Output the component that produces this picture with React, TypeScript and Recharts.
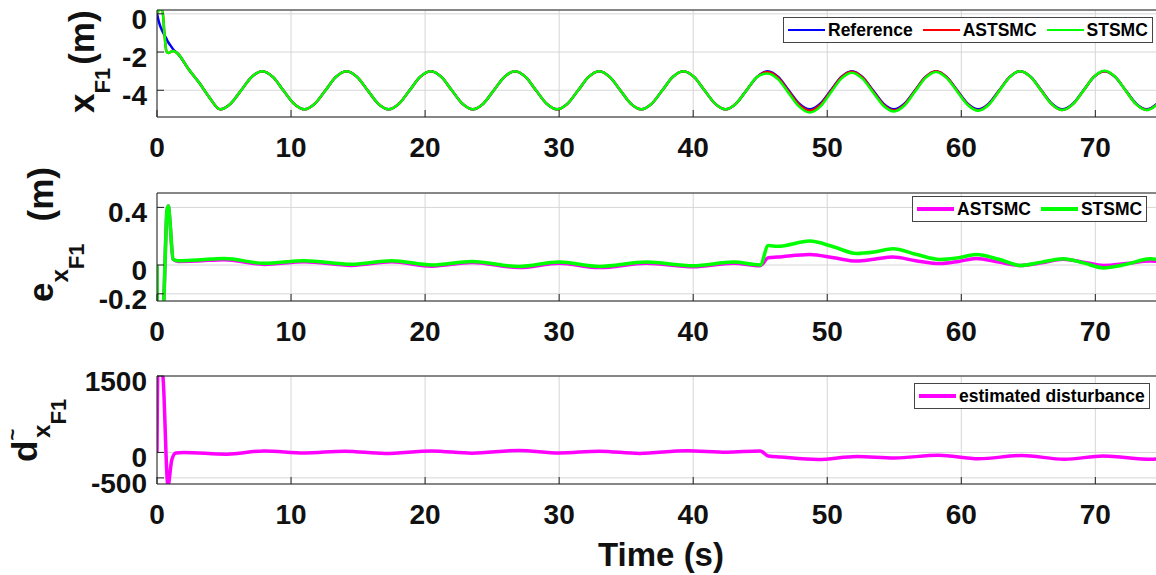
import React from "react";
import { CartesianGrid, Legend, Line, LineChart, XAxis, YAxis } from "recharts";

const FONT = '"Liberation Sans", Arial, Helvetica, sans-serif';
const INK = "#222222";
const GRID = "#d6d6d6";

const BLUE = "#0000ff";
const RED = "#ff0000";
const GREEN = "#00ff00";
const MAGENTA = "#ff00ff";

const xTicks = [0, 10, 20, 30, 40, 50, 60, 70];
const xDomain = [0, 74.6];

// ---- position x_F1 (m) ----
const tPos = [
  0, 0.15, 0.4, 0.55, 0.7, 0.85, 1.0, 1.2,
  1.57, 2.36, 3.14, 3.93, 4.71, 5.5, 6.28,
  7.07, 7.85, 8.64, 9.42, 10.21, 11.0, 11.78, 12.57,
  13.35, 14.14, 14.92, 15.71, 16.49, 17.28, 18.06, 18.85,
  19.63, 20.42, 21.21, 21.99, 22.78, 23.56, 24.35, 25.13,
  25.92, 26.7, 27.49, 28.27, 29.06, 29.85, 30.63, 31.42,
  32.2, 32.99, 33.77, 34.56, 35.34, 36.13, 36.91, 37.7,
  38.48, 39.27, 40.06, 40.84, 41.63, 42.41, 43.2, 43.98,
  44.77, 45.55, 46.34, 47.12, 47.91, 48.69, 49.48, 50.27,
  51.05, 51.84, 52.62, 53.41, 54.19, 54.98, 55.76, 56.55,
  57.33, 58.12, 58.9, 59.69, 60.48, 61.26, 62.05, 62.83,
  63.62, 64.4, 65.19, 65.97, 66.76, 67.54, 68.33, 69.12,
  69.9, 70.69, 71.47, 72.26, 73.04, 73.83, 74.61,
];
const refPos = [
  0, -0.45, -0.9, -1.1, -1.3, -1.5, -1.65, -1.85,
  -2.1, -2.9, -3.6, -4.4, -5, -4.7, -4,
  -3.3, -3, -3.3, -4, -4.7, -5, -4.7, -4,
  -3.3, -3, -3.3, -4, -4.7, -5, -4.7, -4,
  -3.3, -3, -3.3, -4, -4.7, -5, -4.7, -4,
  -3.3, -3, -3.3, -4, -4.7, -5, -4.7, -4,
  -3.3, -3, -3.3, -4, -4.7, -5, -4.7, -4,
  -3.3, -3, -3.3, -4, -4.7, -5, -4.7, -4,
  -3.3, -3, -3.3, -4, -4.7, -5, -4.7, -4,
  -3.3, -3, -3.3, -4, -4.7, -5, -4.7, -4,
  -3.3, -3, -3.3, -4, -4.7, -5, -4.7, -4,
  -3.3, -3, -3.3, -4, -4.7, -5, -4.7, -4,
  -3.3, -3, -3.3, -4, -4.7, -5, -4.7,
];
const astPos = [
  0, 0.2, 0.22, -1.0, -1.95, -2.05, -2.0, -1.95,
  -2.1, -2.9, -3.6, -4.4, -5, -4.7, -4,
  -3.3, -3, -3.3, -4, -4.7, -5, -4.7, -4,
  -3.3, -3, -3.3, -4, -4.7, -5, -4.7, -4,
  -3.3, -3, -3.3, -4, -4.7, -5, -4.7, -4,
  -3.3, -3, -3.3, -4, -4.7, -5, -4.7, -4,
  -3.3, -3, -3.3, -4, -4.7, -5, -4.7, -4,
  -3.3, -3, -3.3, -4, -4.7, -5, -4.7, -4,
  -3.3, -3.05, -3.36, -4.07, -4.77, -5.07, -4.77, -4.05,
  -3.33, -3.03, -3.33, -4.05, -4.75, -5.06, -4.75, -4.03,
  -3.32, -3.01, -3.32, -4.03, -4.74, -5.05, -4.74, -4.02,
  -3.3, -3.0, -3.31, -4.02, -4.74, -5.04, -4.73, -4.01,
  -3.29, -3.0, -3.29, -4.01, -4.73, -5.03, -4.74,
];
const stPos = [
  0, 0.2, 0.22, -1.0, -1.95, -2.05, -2.0, -1.95,
  -2.1, -2.9, -3.6, -4.4, -5, -4.7, -4,
  -3.3, -3, -3.3, -4, -4.7, -5, -4.7, -4,
  -3.3, -3, -3.3, -4, -4.7, -5, -4.7, -4,
  -3.3, -3, -3.3, -4, -4.7, -5, -4.7, -4,
  -3.3, -3, -3.3, -4, -4.7, -5, -4.7, -4,
  -3.3, -3, -3.3, -4, -4.7, -5, -4.7, -4,
  -3.3, -3, -3.3, -4, -4.7, -5, -4.7, -4,
  -3.3, -3.12, -3.43, -4.15, -4.86, -5.17, -4.86, -4.12,
  -3.39, -3.08, -3.39, -4.1, -4.81, -5.11, -4.8, -4.07,
  -3.35, -3.04, -3.35, -4.06, -4.77, -5.07, -4.76, -4.04,
  -3.31, -3.0, -3.31, -4.03, -4.74, -5.04, -4.73, -4.01,
  -3.29, -2.98, -3.29, -4.01, -4.73, -5.04, -4.74,
];

// ---- tracking error e_xF1 (m) ----
const tErr = [
  0, 0.02, 0.45, 0.75, 0.85, 0.95, 1.2, 1.6,
  3, 5, 8, 11, 14.5, 17.5, 20.5, 23.5, 27, 30, 33, 36.5, 40, 43,
  45, 45.6, 46.3, 48.7, 50.5, 52.2, 53.5, 54.9, 56.6, 58.4, 59.8,
  61.1, 62.8, 64.4, 66, 67.6, 69.1, 70.6, 72.3, 74.1, 74.6,
];
const errAst = [
  0, -0.3, -0.3, 0.38, 0.41, 0.32, 0.04, 0.025,
  0.028, 0.037, 0.004, 0.022, -0.003, 0.022, -0.008, 0.017, -0.018, 0.012, -0.018, 0.012, -0.013, 0.012,
  -0.005, 0.05, 0.055, 0.073, 0.05, 0.027, 0.04, 0.055, 0.03, 0.01, 0.025,
  0.045, 0.02, -0.003, 0.015, 0.04, 0.02, -0.003, 0.01, 0.027, 0.025,
];
const errSt = [
  0, -0.3, -0.3, 0.38, 0.41, 0.32, 0.04, 0.03,
  0.035, 0.045, 0.012, 0.03, 0.005, 0.03, 0.0, 0.025, -0.01, 0.02, -0.01, 0.02, -0.005, 0.02,
  0.0, 0.135, 0.13, 0.166, 0.125, 0.08, 0.09, 0.113, 0.075, 0.038, 0.05,
  0.073, 0.04, -0.003, 0.02, 0.043, 0.015, -0.02, 0.005, 0.043, 0.04,
];

// ---- estimated disturbance ----
const tDist = [
  0, 0.06, 0.4, 0.82, 1.1, 1.4, 2,
  5.2, 8, 11, 14, 17, 20.5, 23.5, 27, 30, 33, 36, 39.5, 42.5,
  45, 45.6, 46.5, 49.3, 52.2, 55, 58.3, 61.3, 64.5, 67.7, 70.6, 74.2, 74.6,
];
const distEst = [
  0, 1560, 1560, -650, -150, -10, 0,
  -35, 30, -10, 25, -20, 30, -15, 40, -10, 25, -20, 35, 5,
  30, -70, -90, -140, -80, -110, -55, -125, -60, -135, -70, -135, -130,
];

const posData = tPos.map((t, i) => ({ t, ref: refPos[i], ast: astPos[i], st: stPos[i] }));
const errData = tErr.map((t, i) => ({ t, ast: errAst[i], st: errSt[i] }));
const distData = tDist.map((t, i) => ({ t, d: distEst[i] }));

const XTick = ({ x, y, payload }: any) => (
  <text x={x} y={y + 20} textAnchor="middle" fontFamily={FONT} fontWeight={700} fontSize={28} fill="#111">
    {payload.value}
  </text>
);

const YTick = ({ x, y, payload }: any) => (
  <text x={x} y={y + 15} textAnchor="end" fontFamily={FONT} fontWeight={700} fontSize={28} fill="#111">
    {payload.value}
  </text>
);

// legend keeps the series in drawing order (recharts sorts by name otherwise)
const legendBox = (order: string[], lineWidth: number) => ({ payload }: any) => {
  const items = [...(payload || [])].sort((a: any, b: any) => order.indexOf(a.value) - order.indexOf(b.value));
  return (
    <div
      style={{
        display: "flex",
        alignItems: "center",
        height: 24,
        padding: "0 4px",
        border: "1px solid #444",
        background: "#fff",
        fontFamily: FONT,
        fontWeight: 700,
        fontSize: 17.5,
        color: "#000",
        whiteSpace: "nowrap",
      }}
    >
      {items.map((p: any, i: number) => (
        <div key={p.value} style={{ display: "flex", alignItems: "center", marginLeft: i ? 10 : 0 }}>
          <span style={{ display: "inline-block", width: 37, height: lineWidth, background: p.color, marginRight: 3 }} />
          <span>{p.value}</span>
        </div>
      ))}
    </div>
  );
};

type PanelProps = {
  top: number;
  height: number;
  data: any[];
  domain: number[];
  yTicks: number[];
  legendLeft: number;
  legendTop: number;
  legendLine: number;
  order: string[];
  children: React.ReactNode;
};

const Panel = ({ top, height, data, domain, yTicks, legendLeft, legendTop, legendLine, order, children }: PanelProps) => (
  <div style={{ position: "absolute", left: 0, top }}>
    <LineChart width={1160} height={height} data={data} margin={{ top: 9, right: 2, bottom: 12, left: 0 }}>
      <CartesianGrid stroke={GRID} />
      <XAxis
        dataKey="t"
        type="number"
        domain={xDomain}
        ticks={xTicks}
        interval={0}
        allowDataOverflow
        height={43}
        tickSize={-7}
        tickMargin={27}
        tick={XTick}
        stroke={INK}
      />
      <XAxis
        xAxisId="top"
        orientation="top"
        dataKey="t"
        type="number"
        domain={xDomain}
        ticks={xTicks}
        interval={0}
        allowDataOverflow
        height={1}
        tickSize={-7}
        tick={false}
        stroke={INK}
      />
      <YAxis
        type="number"
        domain={domain}
        ticks={yTicks}
        interval={0}
        allowDataOverflow
        width={157}
        tickSize={-7}
        tickMargin={17}
        tick={YTick}
        stroke={INK}
      />
      <YAxis
        yAxisId="right"
        orientation="right"
        type="number"
        domain={domain}
        ticks={yTicks}
        interval={0}
        allowDataOverflow
        width={1}
        tickSize={-7}
        tick={false}
        stroke={INK}
      />
      <Legend
        layout="horizontal"
        verticalAlign="middle"
        align="center"
        content={legendBox(order, legendLine)}
        wrapperStyle={{ left: legendLeft, top: legendTop, width: "auto" }}
      />
      {children}
    </LineChart>
  </div>
);

const labelText = { fontFamily: FONT, fontWeight: 700, fill: "#111" } as const;

export default function App() {
  return (
    <div style={{ position: "fixed", left: 0, top: 0, width: 1156, height: 575, overflow: "hidden", background: "#fff" }}>
      <Panel
        top={0}
        height={172}
        data={posData}
        domain={[-5.4, 0.2]}
        yTicks={[-4, -2, 0]}
        legendLeft={783}
        legendTop={17}
        legendLine={2.5}
        order={["Reference", "ASTSMC", "STSMC"]}
      >
        <Line dataKey="ref" name="Reference" type="monotone" stroke={BLUE} strokeWidth={2.5} dot={false} activeDot={false} isAnimationActive={false} />
        <Line dataKey="ast" name="ASTSMC" type="monotone" stroke={RED} strokeWidth={2.5} dot={false} activeDot={false} isAnimationActive={false} />
        <Line dataKey="st" name="STSMC" type="monotone" stroke={GREEN} strokeWidth={2.5} dot={false} activeDot={false} isAnimationActive={false} />
      </Panel>
      <Panel
        top={183}
        height={173}
        data={errData}
        domain={[-0.25, 0.5]}
        yTicks={[-0.2, 0, 0.4]}
        legendLeft={912}
        legendTop={13}
        legendLine={3.5}
        order={["ASTSMC", "STSMC"]}
      >
        <Line dataKey="ast" name="ASTSMC" type="monotone" stroke={MAGENTA} strokeWidth={3.5} dot={false} activeDot={false} isAnimationActive={false} />
        <Line dataKey="st" name="STSMC" type="monotone" stroke={GREEN} strokeWidth={3.5} dot={false} activeDot={false} isAnimationActive={false} />
      </Panel>
      <Panel
        top={366}
        height={173}
        data={distData}
        domain={[-620, 1500]}
        yTicks={[-500, 0, 1500]}
        legendLeft={914}
        legendTop={17}
        legendLine={3.5}
        order={["estimated disturbance"]}
      >
        <Line dataKey="d" name="estimated disturbance" type="monotone" stroke={MAGENTA} strokeWidth={3.5} dot={false} activeDot={false} isAnimationActive={false} />
      </Panel>

      <svg width={1156} height={575} style={{ position: "absolute", left: 0, top: 0, pointerEvents: "none" }}>
        {/* x_F1 (m) */}
        <text transform="translate(94,113) rotate(-90)" fontSize={35} {...labelText}>
          <tspan>x</tspan>
          <tspan dy={16} fontSize={22}>F1</tspan>
          <tspan dy={-16} dx={3}>(m)</tspan>
        </text>
        {/* e_{x_F1} (m) */}
        <text transform="translate(53,302) rotate(-90)" fontSize={35} {...labelText}>
          <tspan>e</tspan>
          <tspan dy={15} fontSize={24}>x</tspan>
          <tspan dy={16} fontSize={22}>F1</tspan>
          <tspan dy={-31} dx={22}>(m)</tspan>
        </text>
        {/* d^~_{x_F1} */}
        <text transform="translate(37,462) rotate(-90)" fontSize={35} {...labelText}>
          <tspan>d</tspan>
          <tspan dy={-18} fontSize={20}>~</tspan>
          <tspan dy={31} dx={-9} fontSize={24}>x</tspan>
          <tspan dy={16} fontSize={22}>F1</tspan>
        </text>
        <text x={661} y={566} textAnchor="middle" fontSize={33} {...labelText}>
          Time (s)
        </text>
      </svg>
    </div>
  );
}
